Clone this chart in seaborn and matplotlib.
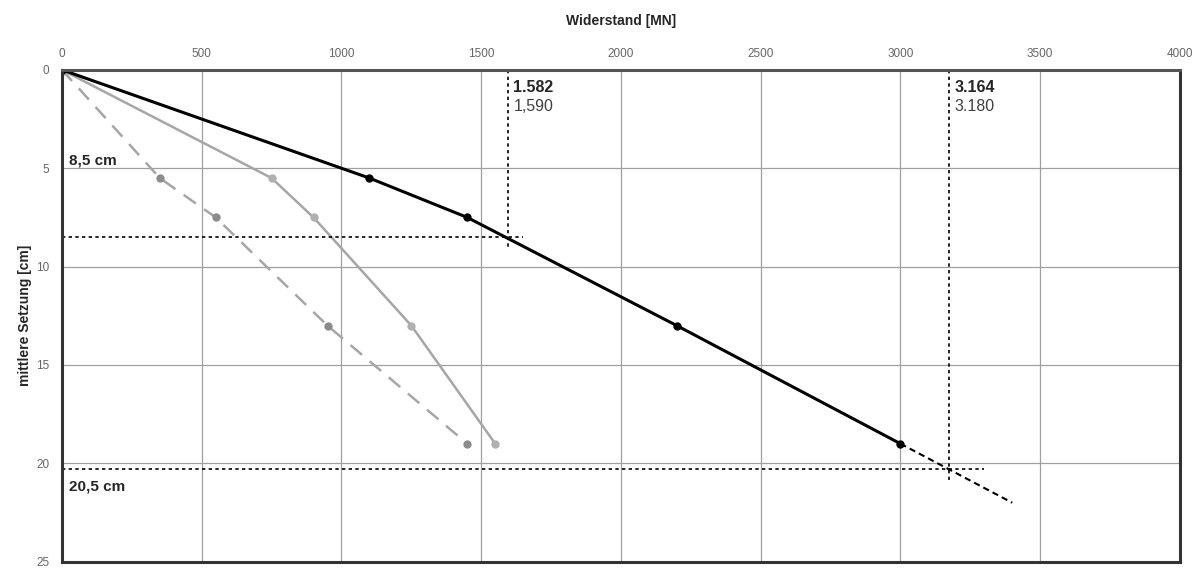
import pandas as pd
import matplotlib.pyplot as plt
import seaborn as sns

# data
setzung = [0, 5.5, 7.5, 13, 19]
widerstand_schwarz = [0, 1100, 1450, 2200, 3000]
widerstand_grau = [0, 750, 900, 1250, 1550]
widerstand_grau_gestr = [0, 350, 550, 950, 1450]

extrap_x = [3000, 3400]
extrap_y = [19, 22]

grenz_setzung = [8.5, 20.3]
grenz_widerstand = [1595, 3175]
grenz_labels_fett = ["1.582", "3.164"]
grenz_labels = ["1,590", "3.180"]
setzung_labels = ["8,5 cm", "20,5 cm"]

sns.set_style("white")
plt.rcParams["font.family"] = ["Liberation Sans", "DejaVu Sans"]

fig = plt.figure(figsize=(12.04, 5.68), dpi=100)
ax = fig.add_axes([0.0515, 0.011, 0.9285, 0.866])

df = pd.DataFrame({
    "x": widerstand_schwarz + widerstand_grau + widerstand_grau_gestr,
    "y": setzung * 3,
    "serie": ["schwarz"] * 5 + ["grau"] * 5 + ["grau_gestr"] * 5,
})

sns.lineplot(data=df[df.serie == "grau_gestr"], x="x", y="y", sort=False,
             color="#a6a6a6", lw=1.8, dashes=False, ls=(0, (6, 4)),
             marker="o", markersize=6, markeredgewidth=0,
             markerfacecolor="#8c8c8c", ax=ax)
sns.lineplot(data=df[df.serie == "grau"], x="x", y="y", sort=False,
             color="#a6a6a6", lw=1.8, marker="o", markersize=6,
             markeredgewidth=0, markerfacecolor="#b0b0b0", ax=ax)
sns.lineplot(data=df[df.serie == "schwarz"], x="x", y="y", sort=False,
             color="black", lw=2.2, marker="o", markersize=6,
             markeredgewidth=0, ax=ax)
ax.plot(extrap_x, extrap_y, color="black", lw=1.5, ls=(0, (3, 2)))
ax.plot([0], [0], "o", color="#a6a6a6", ms=8, mew=0, zorder=1)

# Grenzlinien
ax.plot([0, 1650], [grenz_setzung[0]] * 2, color="black", lw=1.2, ls=(0, (2, 2)))
ax.plot([0, 3300], [grenz_setzung[1]] * 2, color="black", lw=1.2, ls=(0, (2, 2)))
ax.plot([grenz_widerstand[0]] * 2, [0, 9.0], color="black", lw=1.2, ls=(0, (2, 2)))
ax.plot([grenz_widerstand[1]] * 2, [0, 20.9], color="black", lw=1.2, ls=(0, (2, 2)))

for xv, tb, tn in zip(grenz_widerstand, grenz_labels_fett, grenz_labels):
    ax.text(xv + 20, 0.5, tb, fontsize=11.5, fontweight="bold", va="top", ha="left")
    ax.text(xv + 20, 1.5, tn, fontsize=11.5, color="#404040", va="top", ha="left")

ax.text(25, 4.6, setzung_labels[0], fontsize=11, fontweight="bold", va="center")
ax.text(25, 21.2, setzung_labels[1], fontsize=11, fontweight="bold", va="center")

ax.set_xlim(0, 4000)
ax.set_ylim(25, 0)
ax.set_xticks(range(0, 4001, 500))
ax.set_yticks(range(0, 26, 5))
ax.xaxis.tick_top()
ax.xaxis.set_label_position("top")
ax.tick_params(axis="both", labelsize=8.5, colors="#666666", length=0)
ax.tick_params(axis="x", pad=7)
ax.tick_params(axis="y", pad=9)
ax.grid(True, color="#a0a0a0", lw=0.9)
ax.set_axisbelow(True)
ax.set_xlabel("Widerstand [MN]", fontsize=10, fontweight="bold", labelpad=17)
ax.set_ylabel("mittlere Setzung [cm]", fontsize=10, fontweight="bold", labelpad=3)

for side in ["left", "right", "top", "bottom"]:
    ax.spines[side].set_visible(True)
    ax.spines[side].set_color("#333333")
    ax.spines[side].set_linewidth(2.2)
ax.spines["top"].set_color("#555555")

fig.savefig("out.png", dpi=100)
